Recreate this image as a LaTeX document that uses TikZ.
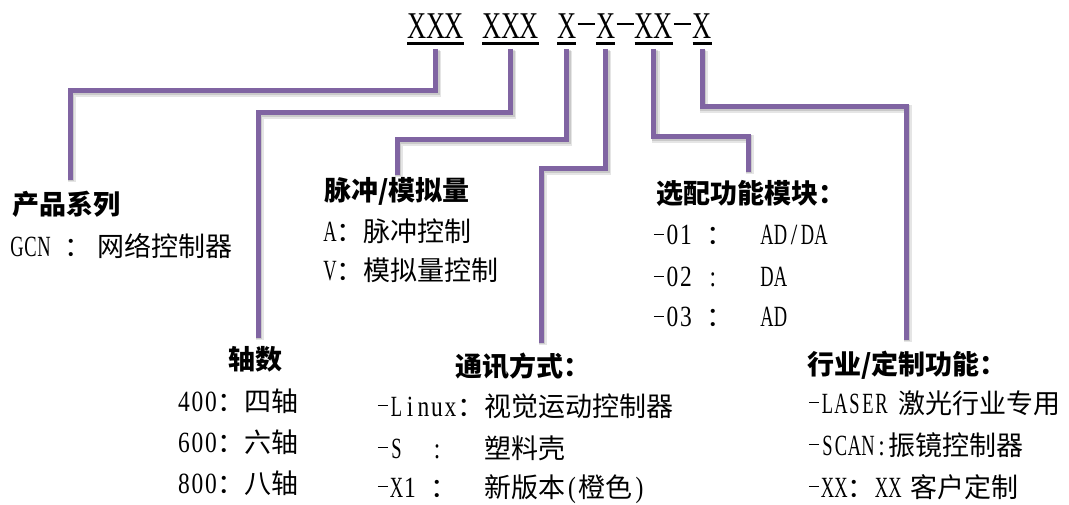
\documentclass[tikz,border=0pt]{standalone}
\usepackage{fontspec}
\setmainfont{Liberation Serif}
\newfontfamily\cjk{Noto Sans CJK SC}
\newfontfamily\lat[FakeStretch=0.8]{Liberation Serif}
\newfontfamily\latu[FakeStretch=0.63]{Liberation Serif}
\newfontfamily\latc[FakeStretch=0.7]{Liberation Serif}
\definecolor{purp}{HTML}{8064A2}
\newlength\cw
\newcommand\dw{.78}
\def\monoloop#1{\ifx#1\relax\else\monochar{#1}\expandafter\monoloop\fi}
\def\monochar#1{\makebox[\cw]{\ifx-#1\rule[.72\cw]{\dw\cw}{.1\cw}\else\ifnum`#1>64 \ifnum`#1<91 {\upf#1}\else#1\fi\else#1\fi\fi}}
\newcommand\mono[1]{\monoloop#1\relax}
\newcommand\upf{\latu}
\tikzset{
 body/.style={anchor=base west, inner sep=0pt, font=\setlength\cw{10.125pt}\renewcommand\dw{.76}\lat\fontsize{22pt}{26pt}\selectfont},
 head/.style={anchor=base west, inner sep=0pt, font=\cjk\bfseries\fontsize{20.25pt}{24pt}\selectfont},
 code/.style={anchor=base west, inner sep=0pt, font=\setlength\cw{14.175pt}\renewcommand\dw{.9}\renewcommand\upf{}\latc\fontsize{28.35pt}{32pt}\selectfont},
 conn/.style={line width=3.75pt, draw=purp, line join=miter},
 shadA/.style={line width=6pt, draw=black, opacity=0.10, line join=miter, transform canvas={shift={(1.2pt,-1.8pt)}}},
 shadB/.style={line width=4.5pt, draw=black, opacity=0.12, line join=miter, transform canvas={shift={(0.8pt,-1.1pt)}}},
 uline/.style={line width=1.7pt, draw=black},
}
\newcommand\cj[1]{{\fontsize{20.25pt}{24pt}\selectfont\cjk #1}}
\newcommand\link[3]{%
 \draw[shadA] (#1.base |- top) |- (#3 |- 0,#2) -- (#3);
 \draw[shadB] (#1.base |- top) |- (#3 |- 0,#2) -- (#3);
 \draw[conn] (#1.base |- top) |- (#3 |- 0,#2) -- (#3);}
\begin{document}
\begin{tikzpicture}[x=0.75pt,y=-0.75pt]
\fill[white] (0,0) rectangle (1069,505);
\useasboundingbox (0,0) rectangle (1069,505);
% code line
\node[code] (g1) at (407,39) {\mono{XXX}};
\node[code] (g2) at (482,39) {\mono{XXX}};
\node[code] (g3) at (557,39) {\mono{X}};
\node[code] (d1) at (g3.base east) {\mono{-}};
\node[code] (g4) at (d1.base east) {\mono{X}};
\node[code] (d2) at (g4.base east) {\mono{-}};
\node[code] (g5) at (d2.base east) {\mono{XX}};
\node[code] (d3) at (g5.base east) {\mono{-}};
\node[code] (g6) at (d3.base east) {\mono{X}};
\foreach \g in {g1,g2,g3,g4,g5,g6}
  \draw[uline] ([yshift=-3.4pt]\g.base west) -- ([yshift=-3.4pt]\g.base east);
% labels
\node[head] (h1) at (12,215) {产品系列};
\node[body] (t1) at (10,257) {\mono{GCN~}\cj{：}\hspace{4.5pt}\cj{网络控制器}};
\node[head] (h2) at (228,369) {轴数};
\node[body] (t2a) at (177,411) {\mono{400}\cj{：四轴}};
\node[body] (t2b) at (177,452) {\mono{600}\cj{：六轴}};
\node[body] (t2c) at (177,493) {\mono{800}\cj{：八轴}};
\node[head] (h3) at (324,201) {脉冲/模拟量};
\node[body] (t3a) at (323,242) {\mono{A}\cj{：脉冲控制}};
\node[body] (t3b) at (323,281) {\mono{V}\cj{：模拟量控制}};
\node[head] (h4) at (455,377) {通讯方式：};
\node[body] (t4a) at (376,416) {\mono{-Linux}\cj{：视觉运动控制器}};
\node[body] (t4b) at (376,458) {\mono{-S~~:~~~}\cj{塑料壳}};
\node[body] (t4c) at (376,497) {\mono{-X1~}\cj{：}\mono{~~}\cj{新版本}\mono{(}\cj{橙色}\mono{)}};
\node[head] (h5) at (656,204) {选配功能模块：};
\node[body] (t5a) at (652,245) {\mono{-01~}\cj{：}\mono{~~AD/DA}};
\node[body] (t5b) at (652,287) {\mono{-02~:~~~DA}};
\node[body] (t5c) at (652,327) {\mono{-03~}\cj{：}\mono{~~AD}};
\node[head] (h6) at (807,374) {行业/定制功能：};
\node[body] (t6a) at (807,413) {\mono{-LASER}\hspace{7.5pt}\cj{激光行业专用}};
\node[body] (t6b) at (807,455) {\mono{-SCAN:}\cj{振镜控制器}};
\node[body] (t6c) at (807,497) {\mono{-XX}\cj{：}\mono{XX}\hspace{6.4pt}\cj{客户定制}};
% connector ends
\coordinate (top) at (0,49);
\coordinate (e1) at (70,180);
\coordinate (e2) at (258,338);
\coordinate (e3) at (397,175);
\coordinate (e4) at (541,343);
\coordinate (e5) at (748,172);
\coordinate (e6) at (906,340);
\link{g1}{91}{e1}
\link{g2}{113}{e2}
\link{g3}{140}{e3}
\link{g4}{169}{e4}
\link{g5}{137}{e5}
\link{g6}{107}{e6}
\end{tikzpicture}
\end{document}
